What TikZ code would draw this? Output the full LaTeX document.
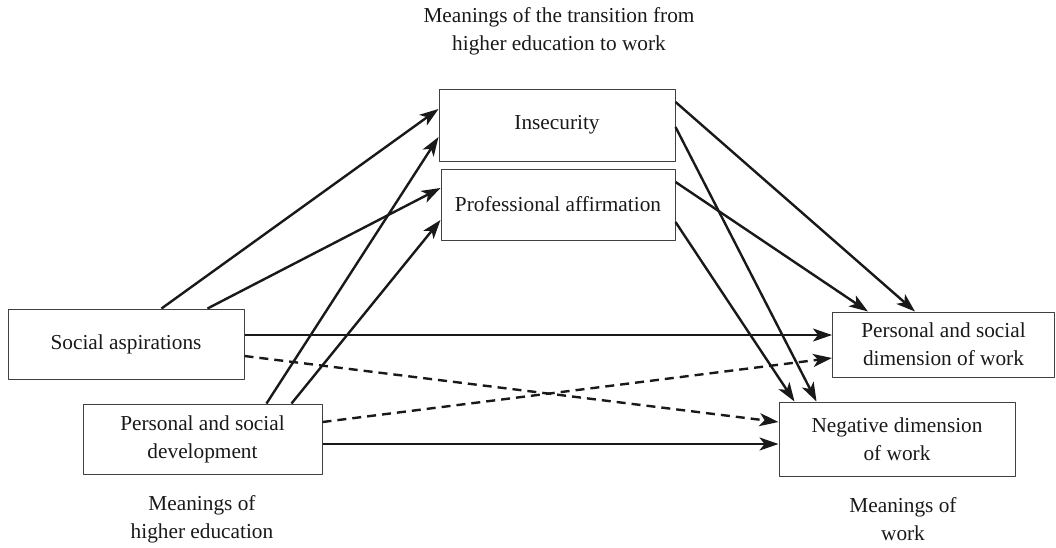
\documentclass[tikz,border=0pt]{standalone}
\usepackage{fontspec}
\setmainfont{Liberation Serif}
\usetikzlibrary{arrows.meta}
\begin{document}
\begin{tikzpicture}[x=1pt, y=1pt, font=\fontsize{21.3}{28}\selectfont, line join=round, >={Stealth[length=19pt,width=13pt,inset=5pt]},
	box/.style={draw=black!75, line width=1pt, align=center, inner sep=0pt, text=black!90},
	arr/.style={->, line width=2.4pt, black!90},
	lbl/.style={align=center, text=black!90}]
	\useasboundingbox (0,0) rectangle (1056,-547);
	% headings
	\node[lbl] (thead) at (559,-31) {Meanings of the transition from\\higher education to work};
	\node[lbl] (lhead) at (202,-519) {Meanings of\\higher education};
	\node[lbl] (rhead) at (903,-519) {Meanings of\\work};
	% boxes
	\node[box, minimum width=236pt, minimum height=72pt] (insec) at (557,-125) {Insecurity};
	\node[box, minimum width=234pt, minimum height=71pt] (prof) at (558,-204.5) {Professional affirmation};
	\node[box, minimum width=236pt, minimum height=70pt] (sasp) at (126,-344) {Social aspirations};
	\node[box, minimum width=239pt, minimum height=70pt] (pdev) at (202.5,-439) {Personal and social\\development};
	\node[box, minimum width=222pt, minimum height=65pt] (psdw) at (943.5,-344.5) {Personal and social\\dimension of work};
	\node[box, minimum width=236pt, minimum height=74pt] (negw) at (897,-439) {Negative dimension\\of work};
	% higher education -> transition
	\draw[arr] ([xshift=154pt]sasp.north west) -- ([yshift=16pt]insec.west);
	\draw[arr] ([xshift=200pt]sasp.north west) -- ([yshift=16.5pt]prof.west);
	\draw[arr] ([xshift=184pt]pdev.north west) -- ([yshift=-12pt]insec.west);
	\draw[arr] ([xshift=209pt]pdev.north west) -- ([yshift=-15.5pt]prof.west);
	% transition -> work
	\draw[arr] ([yshift=23pt]insec.east) -- ([xshift=83pt]psdw.north west);
	\draw[arr] ([yshift=-2pt]insec.east) -- ([xshift=38pt]negw.north west);
	\draw[arr] ([yshift=22.5pt]prof.east) -- ([xshift=36pt]psdw.north west);
	\draw[arr] ([yshift=-17.5pt]prof.east) -- ([xshift=16pt]negw.north west);
	% higher education -> work
	\draw[arr] ([yshift=9pt]sasp.east) -- ([yshift=9.5pt]psdw.west);
	\draw[arr, dash pattern=on 9pt off 6pt] ([yshift=-12pt]sasp.east) -- ([yshift=17pt]negw.west);
	\draw[arr, dash pattern=on 9pt off 6pt] ([yshift=17pt]pdev.east) -- ([yshift=-13.5pt]psdw.west);
	\draw[arr] ([yshift=-5pt]pdev.east) -- ([yshift=-5pt]negw.west);
\end{tikzpicture}
\end{document}
